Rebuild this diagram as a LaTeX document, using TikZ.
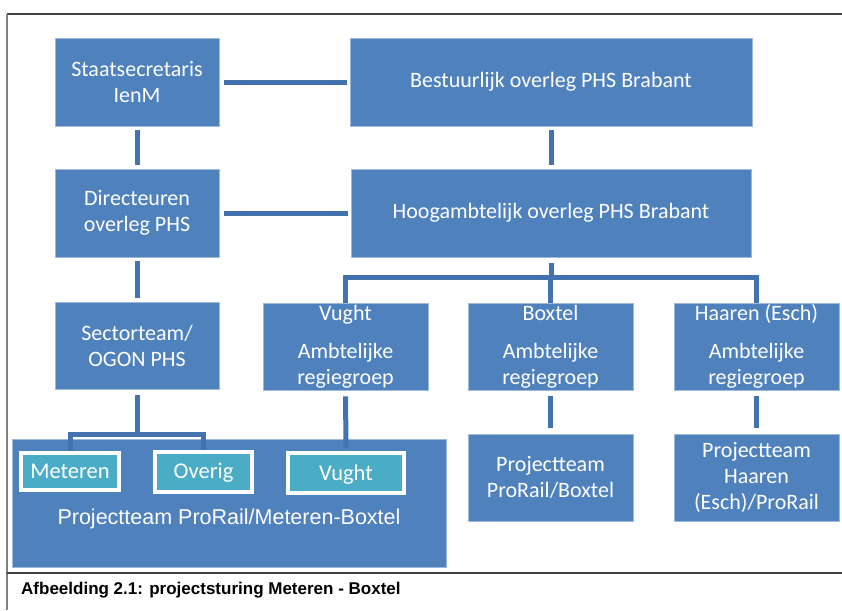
\documentclass[tikz,border=0pt]{standalone}
\usepackage{fontspec}
\newfontfamily\boxfont{Carlito}
\newfontfamily\arialfont{Liberation Sans}
\definecolor{boxblue}{RGB}{79,129,189}
\definecolor{connblue}{RGB}{68,114,176}
\definecolor{tealbox}{RGB}{75,172,198}
\definecolor{framegray}{RGB}{64,64,64}
\tikzset{
  orgbox/.style={fill=boxblue, draw=boxblue!55!white, line width=0.7pt, inner sep=0pt,
    align=center, text=white, font=\boxfont\fontsize{22}{26}\selectfont},
  tealnode/.style={fill=tealbox, draw=white, line width=4pt, inner sep=0pt,
    text height=15pt, text depth=1pt,
    align=center, text=white, font=\boxfont\fontsize{22.5}{26}\selectfont},
  conn/.style={draw=connblue, line width=5pt, line join=miter},
}
\begin{document}
\begin{tikzpicture}[x=1pt,y=-1pt]
\useasboundingbox (0,0) rectangle (842,610);
\fill[white] (0,0) rectangle (842,610);
% frame
\draw[framegray, line width=2pt] (7,14) -- (842,14);
\draw[gray, line width=1.2pt] (7,14) -- (7,610);
\draw[framegray, line width=2pt] (7,573) -- (842,573);
% boxes row 1
\node[orgbox, minimum width=164pt, minimum height=88pt] (staat) at (137,82) {Staatsecretaris\\IenM};
\node[orgbox, minimum width=402pt, minimum height=88pt] (best) at (551,82) {Bestuurlijk overleg PHS Brabant};
% row 2
\node[orgbox, minimum width=164pt, minimum height=88pt] (dir) at (137,213) {Directeuren\\overleg PHS};
\node[orgbox, minimum width=400pt, minimum height=88pt] (hoog) at (551,213) {Hoogambtelijk overleg PHS Brabant};
% row 3
\node[orgbox, minimum width=164pt, minimum height=87pt] (sector) at (137,345.5) {Sectorteam/\\OGON PHS};
\node[orgbox, minimum width=165pt, minimum height=87pt] (vught) at (345.5,346.5) {Vught\\[12pt]Ambtelijke\\regiegroep};
\node[orgbox, minimum width=165pt, minimum height=87pt] (boxtel) at (550.5,346.5) {Boxtel\\[12pt]Ambtelijke\\regiegroep};
\node[orgbox, minimum width=165pt, minimum height=87pt] (haaren) at (756.5,346.5) {Haaren (Esch)\\[12pt]Ambtelijke\\regiegroep};
% row 4
\node[orgbox, minimum width=434pt, minimum height=128pt] (big) at (229,503) {};
\node[text=white, font=\arialfont\fontsize{21.5}{26}\selectfont, inner sep=0pt] (bigtext) at (229,519) {Projectteam ProRail/Meteren-Boxtel};
\node[orgbox, minimum width=165pt, minimum height=87pt] (ptboxtel) at (550.5,477.5) {Projectteam\\ProRail/Boxtel};
\node[orgbox, minimum width=165pt, minimum height=87pt] (pthaaren) at (756.5,477.5) {Projectteam\\Haaren\\(Esch)/ProRail};
% teal boxes
\node[tealnode, minimum width=98pt, minimum height=37pt] (meteren) at (70,471.5) {Meteren};
\node[tealnode, minimum width=97pt, minimum height=40pt] (overig) at (203.5,471.5) {Overig};
\node[tealnode, minimum width=116pt, minimum height=40pt] (vughtt) at (346,473) {Vught};
% connectors
\draw[conn, shorten <=5pt, shorten >=3pt] (staat) -- (best);
\draw[conn, shorten <=5pt, shorten >=3pt] (dir) -- (hoog);
\draw[conn, shorten <=4pt, shorten >=4pt] (staat.south) -- (dir.north);
\draw[conn, shorten <=4pt, shorten >=4pt] (best.south) -- (best.south |- hoog.north);
\draw[conn, shorten <=4pt, shorten >=4pt] (dir.south) -- (sector.north);
\coordinate (hb) at (551,277);
\draw[conn, shorten <=6pt] (hoog.south) -- (hb);
\draw[conn] (vught.north) -- (vught.north |- hb) -- (haaren.north |- hb) -- (haaren.north);
\draw[conn] (boxtel.north |- hb) -- (boxtel.north);
\coordinate (sb) at (137,434);
\draw[conn, shorten <=6pt] (sector.south) -- (sb);
\draw[conn] (meteren.north) -- (meteren.north |- sb) -- (overig.north |- sb) -- (overig.north);
\draw[conn, shorten <=6pt, shorten >=3pt] (vught.south) -- (vughtt.north);
\draw[conn, shorten <=6pt, shorten >=6pt] (boxtel.south) -- (ptboxtel.north);
\draw[conn, shorten <=6pt, shorten >=6pt] (haaren.south) -- (pthaaren.north);
% caption
\node[anchor=west, inner sep=0pt, font=\arialfont\bfseries\fontsize{17}{20}\selectfont] (caption) at (21,590) {Afbeelding 2.1: projectsturing Meteren - Boxtel};
\end{tikzpicture}
\end{document}
